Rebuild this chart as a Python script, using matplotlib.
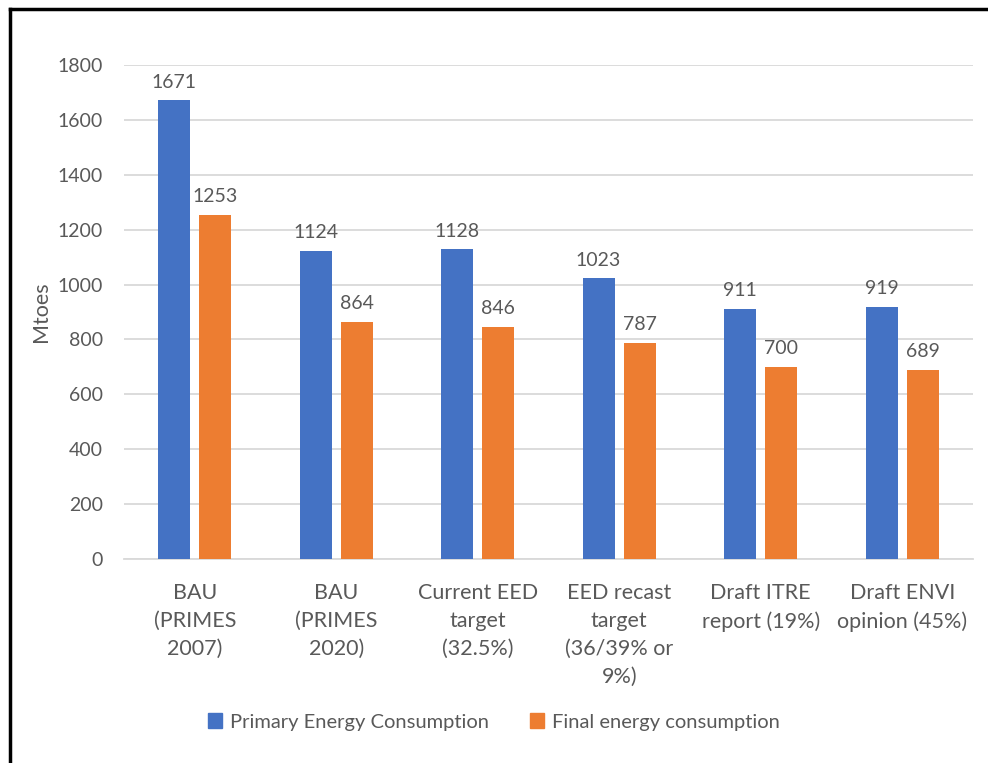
import matplotlib
matplotlib.use("Agg")
import matplotlib.pyplot as plt
import numpy as np
from matplotlib.lines import Line2D
from matplotlib.patches import Patch

categories = ["BAU\n(PRIMES\n2007)", "BAU\n(PRIMES\n2020)", "Current EED\ntarget\n(32.5%)",
              "EED recast\ntarget\n(36/39% or\n9%)", "Draft ITRE\nreport (19%)", "Draft ENVI\nopinion (45%)"]
primary = [1671, 1124, 1128, 1023, 911, 919]
final = [1253, 864, 846, 787, 700, 689]
series_names = ["Primary Energy Consumption", "Final energy consumption"]
yticks = [0, 200, 400, 600, 800, 1000, 1200, 1400, 1600, 1800]

BLUE = "#4472C4"
ORANGE = "#ED7D31"
GRAY = "#595959"
GRID = "#D9D9D9"

plt.rcParams['font.family'] = ['Lato', 'DejaVu Sans']

W, H = 988, 763
fig = plt.figure(figsize=(W / 100, H / 100), dpi=100)
ax = fig.add_axes([124 / W, 1 - 559 / H, (973 - 124) / W, (559 - 65) / H])

x = np.arange(len(categories))
bw = 0.226
off = 0.146
b1 = ax.bar(x - off, primary, bw, color=BLUE, zorder=3)
b2 = ax.bar(x + off, final, bw, color=ORANGE, zorder=3)

for bars, vals in ((b1, primary), (b2, final)):
    for r, v in zip(bars, vals):
        ax.annotate(str(v), (r.get_x() + r.get_width() / 2, v), xytext=(0, 7),
                    textcoords="offset points", ha="center", va="bottom",
                    fontsize=14, color=GRAY)

ax.set_xlim(-0.5, len(categories) - 0.5)
ax.set_ylim(0, 1800)
ax.set_yticks(yticks)
ax.set_yticklabels([str(t) for t in yticks])
ax.set_xticks(x)
ax.set_xticklabels(categories, linespacing=1.5, fontsize=15.5)
ax.tick_params(axis="both", length=0, labelcolor=GRAY)
ax.tick_params(axis="y", labelsize=14, pad=15)
ax.tick_params(axis="x", pad=17)
ax.grid(axis="y", color=GRID, linewidth=1.3, zorder=0)
for s in ("top", "right", "left"):
    ax.spines[s].set_visible(False)
ax.spines["bottom"].set_color(GRID)
ax.spines["bottom"].set_linewidth(1.3)
ax.set_ylabel("Mtoes", fontsize=15.5, color=GRAY, labelpad=5)

handles = [Patch(color=BLUE), Patch(color=ORANGE)]
fig.legend(handles, series_names, loc="center", bbox_to_anchor=(0.5, 1 - 722 / H),
           ncol=2, frameon=False, fontsize=14.5, labelcolor=GRAY,
           handlelength=0.7, handleheight=0.7, handletextpad=0.4, columnspacing=2.0)

# outer frame (left and top edges visible)
fig.add_artist(Line2D([10 / W, 10 / W], [0, 1 - 9 / H], color="black", linewidth=2.5,
                      transform=fig.transFigure))
fig.add_artist(Line2D([10 / W, 1], [1 - 9 / H, 1 - 9 / H], color="black", linewidth=2.5,
                      transform=fig.transFigure))

fig.savefig("out.png", dpi=100)
